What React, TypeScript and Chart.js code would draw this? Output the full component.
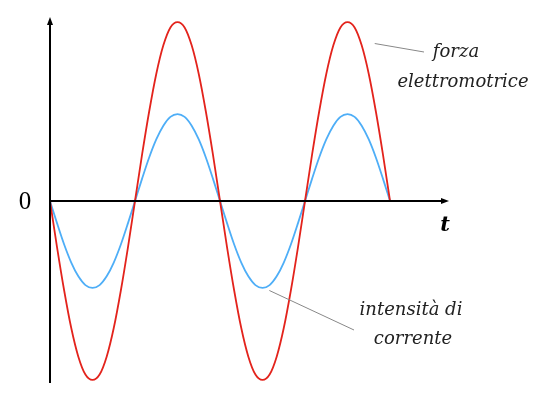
import React, { useEffect, useRef } from "react";
import { Chart, registerables, Plugin } from "chart.js";

Chart.register(...registerables);

// time in periods, 24 samples per period
const times: number[] = [
  0, 0.0417, 0.0833, 0.125, 0.1667, 0.2083, 0.25, 0.2917, 0.3333, 0.375, 0.4167, 0.4583,
  0.5, 0.5417, 0.5833, 0.625, 0.6667, 0.7083, 0.75, 0.7917, 0.8333, 0.875, 0.9167, 0.9583,
  1, 1.0417, 1.0833, 1.125, 1.1667, 1.2083, 1.25, 1.2917, 1.3333, 1.375, 1.4167, 1.4583,
  1.5, 1.5417, 1.5833, 1.625, 1.6667, 1.7083, 1.75, 1.7917, 1.8333, 1.875, 1.9167, 1.9583, 2,
];

// forza elettromotrice (red)
const emfValues: number[] = [
  0, -0.26, -0.5, -0.71, -0.87, -0.97, -1, -0.97, -0.87, -0.71, -0.5, -0.26,
  0, 0.26, 0.5, 0.71, 0.87, 0.97, 1, 0.97, 0.87, 0.71, 0.5, 0.26,
  0, -0.26, -0.5, -0.71, -0.87, -0.97, -1, -0.97, -0.87, -0.71, -0.5, -0.26,
  0, 0.26, 0.5, 0.71, 0.87, 0.97, 1, 0.97, 0.87, 0.71, 0.5, 0.26, 0,
];

// intensità di corrente (blue)
const currentValues: number[] = [
  0, -0.125, -0.243, -0.344, -0.421, -0.47, -0.486, -0.47, -0.421, -0.344, -0.243, -0.125,
  0, 0.125, 0.243, 0.344, 0.421, 0.47, 0.486, 0.47, 0.421, 0.344, 0.243, 0.125,
  0, -0.125, -0.243, -0.344, -0.421, -0.47, -0.486, -0.47, -0.421, -0.344, -0.243, -0.125,
  0, 0.125, 0.243, 0.344, 0.421, 0.47, 0.486, 0.47, 0.421, 0.344, 0.243, 0.125, 0,
];

const originLabel = "0";
const timeLabel = "t";
const emfLabel = ["forza", "elettromotrice"];
const currentLabel = ["intensità di", "corrente"];

const RED = "#e3231c";
const BLUE = "#4eaef7";
const LABEL_FONT = "italic 18px 'DejaVu Serif'";

const axesPlugin: Plugin<"line"> = {
  id: "axesAndLabels",
  afterDatasetsDraw(chart) {
    const { ctx, scales, chartArea } = chart;
    const x = scales.x;
    const y = scales.y;
    const x0 = x.getPixelForValue(0);
    const y0 = y.getPixelForValue(0);
    ctx.save();
    ctx.strokeStyle = "#000";
    ctx.fillStyle = "#000";
    ctx.lineWidth = 2;
    // vertical axis
    ctx.beginPath();
    ctx.moveTo(x0, chartArea.bottom);
    ctx.lineTo(x0, chartArea.top + 4);
    ctx.stroke();
    ctx.beginPath();
    ctx.moveTo(x0, chartArea.top - 2);
    ctx.lineTo(x0 - 3, chartArea.top + 6);
    ctx.lineTo(x0 + 3, chartArea.top + 6);
    ctx.closePath();
    ctx.fill();
    // horizontal axis
    ctx.beginPath();
    ctx.moveTo(x0, y0);
    ctx.lineTo(chartArea.right - 4, y0);
    ctx.stroke();
    ctx.beginPath();
    ctx.moveTo(chartArea.right + 1, y0);
    ctx.lineTo(chartArea.right - 7, y0 - 3);
    ctx.lineTo(chartArea.right - 7, y0 + 3);
    ctx.closePath();
    ctx.fill();

    ctx.textAlign = "center";
    ctx.textBaseline = "middle";
    ctx.font = "25px 'Liberation Serif'";
    ctx.fillText(originLabel, x0 - 25, y0 + 1);
    ctx.font = "italic bold 21px 'DejaVu Serif'";
    ctx.fillText(timeLabel, chartArea.right - 3, y0 + 25);

    // leader lines
    ctx.strokeStyle = "#888";
    ctx.lineWidth = 1;
    ctx.beginPath();
    ctx.moveTo(x.getPixelForValue(1.91), y.getPixelForValue(0.88));
    ctx.lineTo(424, 52);
    ctx.stroke();
    ctx.beginPath();
    ctx.moveTo(x.getPixelForValue(1.29), y.getPixelForValue(-0.5));
    ctx.lineTo(354, 330);
    ctx.stroke();

    ctx.fillStyle = "#222";
    ctx.font = LABEL_FONT;
    ctx.fillText(emfLabel[0], 456, 52);
    ctx.fillText(emfLabel[1], 463, 82);
    ctx.fillText(currentLabel[0], 411, 310);
    ctx.fillText(currentLabel[1], 413, 339);
    ctx.restore();
  },
};

const App: React.FC = () => {
  const canvasRef = useRef<HTMLCanvasElement | null>(null);
  const chartRef = useRef<Chart<"line"> | null>(null);

  useEffect(() => {
    const ctx = canvasRef.current?.getContext("2d");
    if (!ctx) return;
    chartRef.current = new Chart(ctx, {
      type: "line",
      data: {
        datasets: [
          {
            label: "forza elettromotrice",
            data: times.map((t, i) => ({ x: t, y: emfValues[i] })),
            borderColor: RED,
            borderWidth: 1.8,
            pointRadius: 0,
            cubicInterpolationMode: "monotone",
          },
          {
            label: "intensità di corrente",
            data: times.map((t, i) => ({ x: t, y: currentValues[i] })),
            borderColor: BLUE,
            borderWidth: 1.8,
            pointRadius: 0,
            cubicInterpolationMode: "monotone",
          },
        ],
      },
      options: {
        responsive: false,
        animation: false,
        layout: { padding: { left: 50, right: 101, top: 19, bottom: 17 } },
        plugins: { legend: { display: false }, tooltip: { enabled: false } },
        scales: {
          x: { type: "linear", min: 0, max: 2.341, display: false },
          y: { min: -1.017, max: 1.017, display: false },
        },
      },
      plugins: [axesPlugin],
    });
    return () => {
      chartRef.current?.destroy();
    };
  }, []);

  return (
    <div style={{ position: "fixed", left: 0, top: 0, width: 549, height: 400, background: "#fff" }}>
      <canvas ref={canvasRef} width={549} height={400} />
    </div>
  );
};

export default App;
